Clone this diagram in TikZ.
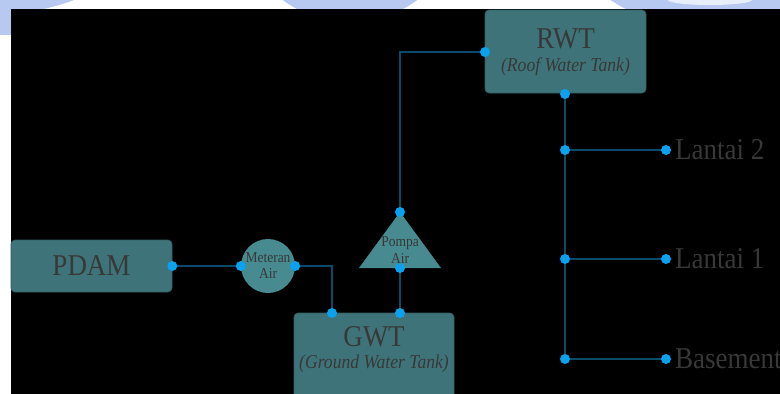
\documentclass[tikz,border=0pt]{standalone}
\usepackage{fontspec}
\usepackage{graphicx}
\setmainfont{Liberation Serif}
\definecolor{boxfill}{HTML}{3E7479}
\definecolor{shapefill}{HTML}{478A90}
\definecolor{linecol}{HTML}{0C4A6A}
\definecolor{dotcol}{HTML}{0AA2EE}
\definecolor{txtcol}{HTML}{383838}
\definecolor{wmblue}{HTML}{B7C8F1}
\newcommand{\tallt}[1]{\scalebox{1}[1.12]{#1}}
\tikzset{
  tankbox/.style={draw=boxfill!80!black, line width=0.6pt, fill=boxfill, rounded corners=4pt, inner sep=0pt},
  pipe/.style={draw=linecol, line width=1.8pt},
  dot/.style={circle, fill=dotcol, inner sep=0pt, minimum size=10pt},
  bigtxt/.style={text=txtcol, font=\fontsize{27}{30}\selectfont, inner sep=0pt},
  subtxt/.style={text=txtcol, font=\fontsize{17.6}{20}\selectfont\itshape, inner sep=0pt},
  smalltxt/.style={text=txtcol, font=\fontsize{13.5}{15}\selectfont, inner sep=0pt},
  lbltxt/.style={text=txtcol, font=\fontsize{27}{30}\selectfont, inner sep=0pt, anchor=west}
}
\begin{document}
\begin{tikzpicture}[x=1pt,y=-1pt]
\useasboundingbox (0,0) rectangle (780,394);
\clip (0,0) rectangle (780,394);
% background and watermark strip
\fill[white] (0,0) rectangle (780,394);
\fill[wmblue] (-60,-40) ellipse [x radius=180, y radius=60];
\fill[wmblue] (0,0) rectangle (11,35);
\fill[wmblue] (350,-92) circle [radius=114];
\fill[wmblue] (600,-5) to[out=-20,in=180] (640,12) -- (790,12) -- (790,-5) -- cycle;
\fill[white!70!wmblue] (710,0) ellipse [x radius=42, y radius=5];
\fill[black] (11,9) rectangle (780,394);

% boxes
\node[tankbox, minimum width=161pt, minimum height=52pt] (pdam) at (91.5,266) {};
\node[bigtxt] (pdamtxt) at (91.5,266) {\tallt{PDAM}};
\node[tankbox, minimum width=161pt, minimum height=83pt] (rwt) at (565.5,51.5) {};
\node[bigtxt] (rwttxt) at (565.5,39) {\tallt{RWT}};
\node[subtxt] (rwtsub) at (565.5,67) {\tallt{(Roof Water Tank)}};
\node[tankbox, minimum width=160pt, minimum height=88pt] (gwt) at (374,357) {};
\node[bigtxt] (gwttxt) at (374,337) {\tallt{GWT}};
\node[subtxt] (gwtsub) at (374,364) {\tallt{(Ground Water Tank)}};

% meter
\node[circle, fill=shapefill, minimum size=54pt, inner sep=0pt] (meter) at (268,266) {};
\node[smalltxt] (metertxt1) at (268,258) {\tallt{Meteran}};
\node[smalltxt] (metertxt2) at (268,273) {\tallt{Air}};

% pump triangle
\coordinate (papex) at (400,212);
\coordinate (pbase) at (400,268);
\fill[shapefill] (papex) -- (441,268) -- (359,268) -- cycle;
\node[smalltxt] (pumptxt1) at (400,243) {\tallt{Pompa}};
\node[smalltxt] (pumptxt2) at (400,258) {\tallt{Air}};

% junctions
\coordinate (m1) at (332,266);
\coordinate (g1) at (332,313);
\coordinate (g2) at (400,313);
\coordinate (r0) at (400,52);
\coordinate (rl) at (485,52);
\coordinate (rb) at (565,94);
\coordinate (j2) at (565,150);
\coordinate (j1) at (565,259);
\coordinate (j0) at (565,359);
\coordinate (e2) at (666,150);
\coordinate (e1) at (666,259);
\coordinate (e0) at (666,359);

% pipes
\draw[pipe] (pdam.east) -- (meter.west);
\draw[pipe] (meter.east) -- (m1) -- (g1);
\draw[pipe] (pbase) -- (g2);
\draw[pipe] (papex) -- (r0) -- (rl);
\draw[pipe] (rb) -- (j0);
\draw[pipe] (j2) -- (e2);
\draw[pipe] (j1) -- (e1);
\draw[pipe] (j0) -- (e0);

% dots
\foreach \p in {pdam.east, meter.west, meter.east, g1, g2, pbase, papex, rl, rb, j2, j1, j0, e2, e1, e0}
  \node[dot] at (\p) {};

% labels
\node[lbltxt] (l2) at (675,150) {\tallt{Lantai 2}};
\node[lbltxt] (l1) at (675,259) {\tallt{Lantai 1}};
\node[lbltxt] (l0) at (675,359) {\tallt{Basement}};
\end{tikzpicture}
\end{document}
